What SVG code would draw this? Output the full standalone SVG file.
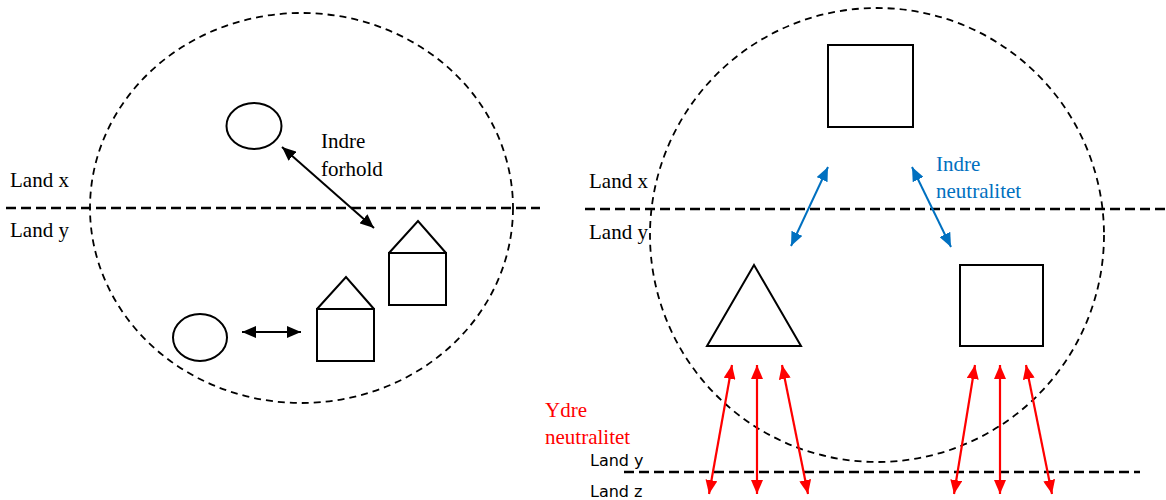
<svg xmlns="http://www.w3.org/2000/svg" width="1166" height="500" viewBox="0 0 1166 500">
<defs>
<style>
.bg{fill:#fff}
.shape{fill:none;stroke:#000;stroke-width:2}
.circ{fill:none;stroke:#000;stroke-width:1.8;stroke-dasharray:7 5}
.divider{fill:none;stroke:#000;stroke-width:2.4;stroke-dasharray:10 5}
.serif{font-family:"Liberation Serif","Times New Roman",serif;font-size:21px}
.sans{font-family:"DejaVu Sans",sans-serif;font-size:16px}
.blk{stroke:#000;stroke-width:2;fill:none}
.blu{stroke:#0070C0;stroke-width:2;fill:none}
.red{stroke:#FF0000;stroke-width:2.2;fill:none}
</style>
<marker id="ab" viewBox="0 0 14 12" refX="14" refY="6" markerWidth="14" markerHeight="12" markerUnits="userSpaceOnUse" orient="auto-start-reverse"><path d="M0,0 L14,6 L0,12 z" fill="#000"/></marker>
<marker id="au" viewBox="0 0 14 12" refX="14" refY="6" markerWidth="14" markerHeight="12" markerUnits="userSpaceOnUse" orient="auto-start-reverse"><path d="M0,0 L14,6 L0,12 z" fill="#0070C0"/></marker>
<marker id="ar" viewBox="0 0 14 12" refX="14" refY="6" markerWidth="14" markerHeight="12" markerUnits="userSpaceOnUse" orient="auto-start-reverse"><path d="M0,0 L14,6 L0,12 z" fill="#FF0000"/></marker>
</defs>
<rect class="bg" x="0" y="0" width="1166" height="500"/>

<g id="left-scene">
<ellipse class="circ" cx="301.5" cy="208" rx="211.5" ry="195"/>
<line class="divider" x1="6" y1="208" x2="540" y2="208"/>
<text class="serif" x="10" y="187">Land x</text>
<text class="serif" x="10" y="237">Land y</text>
</g>

<g id="node-ellipse-top"><ellipse class="shape" cx="254" cy="126" rx="27.5" ry="23"/></g>
<g id="node-ellipse-bottom"><ellipse class="shape" cx="200" cy="337.5" rx="27" ry="23.5"/></g>
<g id="node-house-upper">
<rect class="shape" x="389" y="253" width="57" height="52"/>
<polyline class="shape" points="389,253 418,221 446,253"/>
</g>
<g id="node-house-lower">
<rect class="shape" x="317" y="309" width="57" height="52"/>
<polyline class="shape" points="317,309 346,277 374,309"/>
</g>
<g id="label-indre-forhold">
<text class="serif" x="321" y="148">Indre</text>
<text class="serif" x="321" y="176">forhold</text>
</g>

<g id="right-scene">
<ellipse class="circ" cx="877" cy="235" rx="227" ry="227"/>
<line class="divider" x1="585" y1="209" x2="1166" y2="209"/>
<line class="divider" x1="624" y1="472" x2="1140" y2="472"/>
<text class="serif" x="589" y="188">Land x</text>
<text class="serif" x="589" y="239">Land y</text>
<text class="sans" x="590" y="466">Land y</text>
<text class="sans" x="590" y="497">Land z</text>
</g>

<g id="node-square-top"><rect class="shape" x="828" y="45" width="85" height="82"/></g>
<g id="node-triangle"><polygon class="shape" points="754,265 801,346 707,346"/></g>
<g id="node-square-right"><rect class="shape" x="960" y="265" width="83" height="81"/></g>

<g id="label-indre-neutralitet" fill="#0070C0">
<text class="serif" x="936" y="171">Indre</text>
<text class="serif" x="936" y="198">neutralitet</text>
</g>
<g id="label-ydre-neutralitet" fill="#FF0000">
<text class="serif" x="545" y="417">Ydre</text>
<text class="serif" x="545" y="444">neutralitet</text>
</g>

<g id="connectors">
<line class="blk" x1="282" y1="147" x2="374" y2="228" marker-start="url(#ab)" marker-end="url(#ab)"/>
<line class="blk" x1="242" y1="332" x2="301" y2="332" marker-start="url(#ab)" marker-end="url(#ab)"/>
<line class="blu" x1="828" y1="167" x2="791" y2="246" marker-start="url(#au)" marker-end="url(#au)"/>
<line class="blu" x1="912" y1="167" x2="951" y2="247" marker-start="url(#au)" marker-end="url(#au)"/>
<line class="red" x1="732" y1="365" x2="709" y2="494" marker-start="url(#ar)" marker-end="url(#ar)"/>
<line class="red" x1="757" y1="365" x2="757" y2="494" marker-start="url(#ar)" marker-end="url(#ar)"/>
<line class="red" x1="782" y1="365" x2="808" y2="494" marker-start="url(#ar)" marker-end="url(#ar)"/>
<line class="red" x1="975" y1="365" x2="954" y2="494" marker-start="url(#ar)" marker-end="url(#ar)"/>
<line class="red" x1="1000" y1="365" x2="1000" y2="494" marker-start="url(#ar)" marker-end="url(#ar)"/>
<line class="red" x1="1026" y1="365" x2="1052" y2="494" marker-start="url(#ar)" marker-end="url(#ar)"/>
</g>
</svg>
